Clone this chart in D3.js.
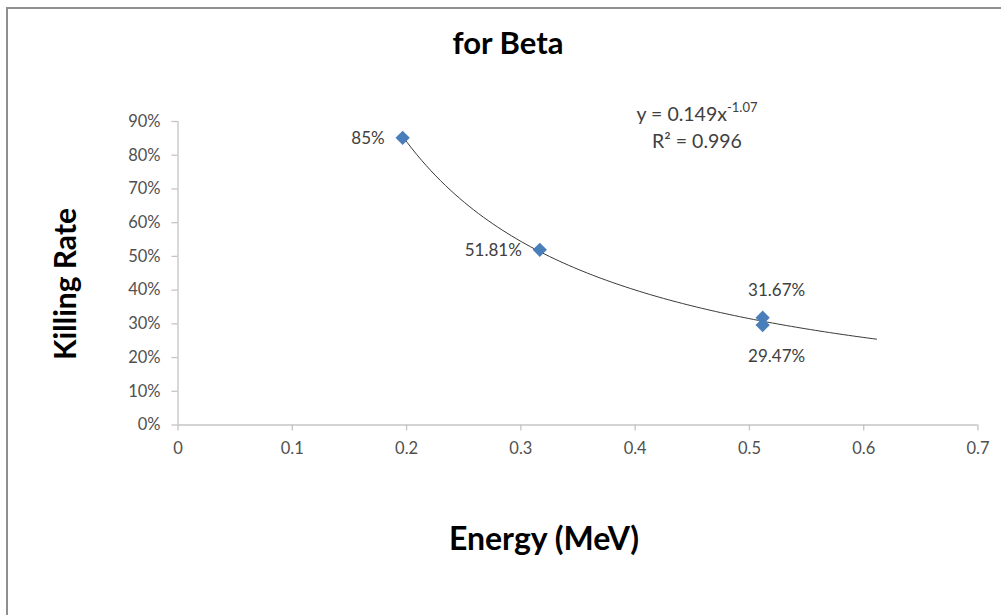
<!DOCTYPE html>
<html>
<head>
<meta charset="utf-8">
<script src="https://cdn.jsdelivr.net/npm/d3@7"></script>
<style>
body { margin: 0; background: #fff; }
text { font-family: Lato, "Open Sans", sans-serif; }
</style>
</head>
<body>
<script>
// data
var energy = [0.197, 0.317, 0.512, 0.512];
var killing = [0.85, 0.5181, 0.3167, 0.2947];
var labels = ["85%", "51.81%", "31.67%", "29.47%"];
var labelPos = ["left", "left", "above", "below"];
var xTicks = [0, 0.1, 0.2, 0.3, 0.4, 0.5, 0.6, 0.7];
var yTicks = [0, 0.1, 0.2, 0.3, 0.4, 0.5, 0.6, 0.7, 0.8, 0.9];

var width = 1001;
var height = 615;

var svg = d3.select("body")
            .append("svg")
            .attr("width", width)
            .attr("height", height);

// outer chart frame
svg.append("rect")
   .attr("x", 7)
   .attr("y", 8)
   .attr("width", 1100)
   .attr("height", 700)
   .attr("fill", "none")
   .attr("stroke", "#8f8f8f")
   .attr("stroke-width", 2);

var x = d3.scaleLinear().domain([0, 0.7]).range([177.5, 977.5]);
var y = d3.scaleLinear().domain([0, 0.9]).range([424.5, 121]);

// y axis
var yAxis = svg.append("g")
   .attr("transform", "translate(177.5,0)")
   .call(d3.axisLeft(y).tickValues(yTicks).tickFormat(d3.format(".0%")).tickSize(6).tickPadding(11));

// x axis
var xAxis = svg.append("g")
   .attr("transform", "translate(0,424.5)")
   .call(d3.axisBottom(x).tickValues(xTicks).tickFormat(function(d) { return d === 0 ? "0" : d.toFixed(1); }).tickSize(6).tickPadding(12));

[yAxis, xAxis].forEach(function(a) {
  a.select(".domain").attr("stroke", "#c4c4c4").attr("stroke-width", 1.3);
  a.selectAll(".tick line").attr("stroke", "#c4c4c4").attr("stroke-width", 1.3);
  a.selectAll(".tick text").attr("fill", "#505050").attr("font-size", "16.5px").attr("font-family", "Lato, sans-serif");
});
xAxis.select(".domain").attr("d", "M177.5,0.5H977.5");
yAxis.select(".domain").attr("d", "M0.5,424.5V121");

// power trendline fitted from the data (least squares in log space)
var lx = energy.map(Math.log), ly = killing.map(Math.log);
var mx = d3.mean(lx), my = d3.mean(ly);
var b = d3.sum(lx, function(v, i) { return (v - mx) * (ly[i] - my); }) / d3.sum(lx, function(v) { return (v - mx) * (v - mx); });
var a = Math.exp(my - b * mx);
var x0 = d3.min(energy), x1 = d3.max(energy) + 0.1;
var trend = d3.range(0, 101).map(function(i) {
  var xv = x0 + (x1 - x0) * i / 100;
  return [xv, a * Math.pow(xv, b)];
});

svg.append("path")
   .datum(trend)
   .attr("d", d3.line().x(function(d) { return x(d[0]); }).y(function(d) { return y(d[1]); }))
   .attr("fill", "none")
   .attr("stroke", "#3a3a3a")
   .attr("stroke-width", 1);

// diamond markers
var pts = energy.map(function(e, i) { return { x: e, y: killing[i], label: labels[i], pos: labelPos[i] }; });

svg.selectAll(".pt")
   .data(pts)
   .enter()
   .append("path")
   .attr("class", "pt")
   .attr("transform", function(d) { return "translate(" + x(d.x) + "," + y(d.y) + ")"; })
   .attr("d", d3.symbol().type(d3.symbolDiamond2).size(130))
   .attr("fill", "#4a7ebb");

svg.selectAll(".lbl")
   .data(pts)
   .enter()
   .append("text")
   .attr("class", "lbl")
   .attr("x", function(d) { return d.pos === "left" ? x(d.x) - 18 : x(d.x) + 14; })
   .attr("y", function(d) {
      if (d.pos === "above") return y(d.y) - 22;
      if (d.pos === "below") return y(d.y) + 37;
      return y(d.y) + 6;
   })
   .attr("text-anchor", function(d) { return d.pos === "left" ? "end" : "middle"; })
   .attr("fill", "#404040")
   .attr("font-size", "17px")
   .text(function(d) { return d.label; });

// trendline equation
var eq = svg.append("text")
   .attr("x", 697)
   .attr("y", 121)
   .attr("text-anchor", "middle")
   .attr("fill", "#404040")
   .attr("font-size", "19.5px");
eq.append("tspan").text("y = " + a.toFixed(3) + "x");
eq.append("tspan").attr("dy", -9).attr("font-size", "13px").text(b.toFixed(2));

var ssTot = d3.sum(ly, function(v) { return (v - my) * (v - my); });
var ssRes = d3.sum(lx, function(v, i) { var r = ly[i] - (Math.log(a) + b * v); return r * r; });
svg.append("text")
   .attr("x", 697)
   .attr("y", 148)
   .attr("text-anchor", "middle")
   .attr("fill", "#404040")
   .attr("font-size", "19.5px")
   .text("R\u00b2 = " + (1 - ssRes / ssTot).toFixed(3));

// titles
svg.append("text")
   .attr("x", 508)
   .attr("y", 54)
   .attr("text-anchor", "middle")
   .attr("font-size", "31px")
   .attr("font-weight", "bold")
   .attr("fill", "#000")
   .text("for Beta");

svg.append("text")
   .attr("x", 544)
   .attr("y", 550)
   .attr("text-anchor", "middle")
   .attr("font-size", "32px")
   .attr("font-weight", "bold")
   .attr("fill", "#000")
   .text("Energy (MeV)");

svg.append("text")
   .attr("transform", "translate(76,284) rotate(-90)")
   .attr("text-anchor", "middle")
   .attr("font-size", "30px")
   .attr("font-weight", "bold")
   .attr("fill", "#000")
   .text("Killing Rate");
</script>
</body>
</html>
